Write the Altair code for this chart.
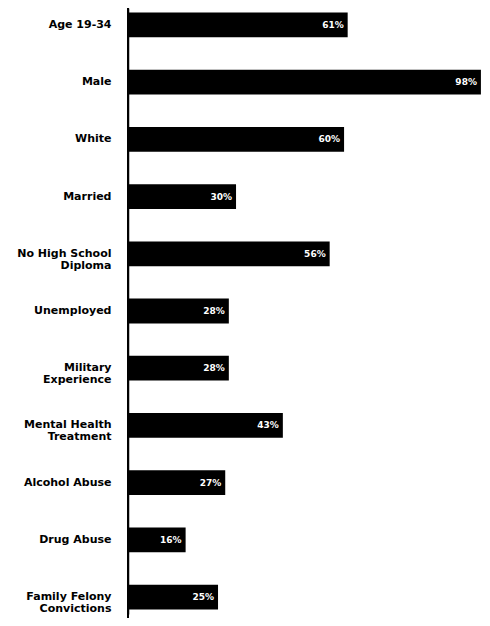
import altair as alt
import pandas as pd

categories = ["Age 19-34", "Male", "White", "Married", "No High School|Diploma",
              "Unemployed", "Military|Experience", "Mental Health|Treatment",
              "Alcohol Abuse", "Drug Abuse", "Family Felony|Convictions"]
values = [61, 98, 60, 30, 56, 28, 28, 43, 27, 16, 25]

df = pd.DataFrame({"cat": categories, "val": values})
df["lab"] = df["val"].astype(str) + "%"

y = alt.Y("cat:N", sort=categories, title=None,
          scale=alt.Scale(paddingInner=0.567, paddingOuter=0.08, range=[0, 606]),
          axis=alt.Axis(labelExpr="split(datum.label, '|')", ticks=False,
                        domainColor="black", domainWidth=1.5, labelPadding=17,
                        labelFont="DejaVu Sans", labelFontWeight="bold",
                        labelFontSize=11, labelColor="black", labelLineHeight=12))
x = alt.X("val:Q", title=None, scale=alt.Scale(domain=[0, 98.3], nice=False),
          axis=None)

bars = alt.Chart(df).mark_bar(color="black").encode(x=x, y=y)
text = alt.Chart(df).mark_text(align="right", dx=-4, color="white",
                               font="DejaVu Sans", fontWeight="bold",
                               fontSize=9).encode(x=x, y=y, text="lab:N")

axis_line = alt.Chart(df).mark_rule(color="black", strokeWidth=1.5).encode(
    x=alt.value(0), y=alt.value(0), y2=alt.value(610))

chart = (bars + text + axis_line).properties(
    width=354, height=610,
    autosize=alt.AutoSizeParams(type="none"),
    padding={"left": 120, "top": 0, "right": 0, "bottom": 0},
).configure_view(stroke=None)

chart.save("out.html", embed_options={"renderer": "svg", "actions": False})
